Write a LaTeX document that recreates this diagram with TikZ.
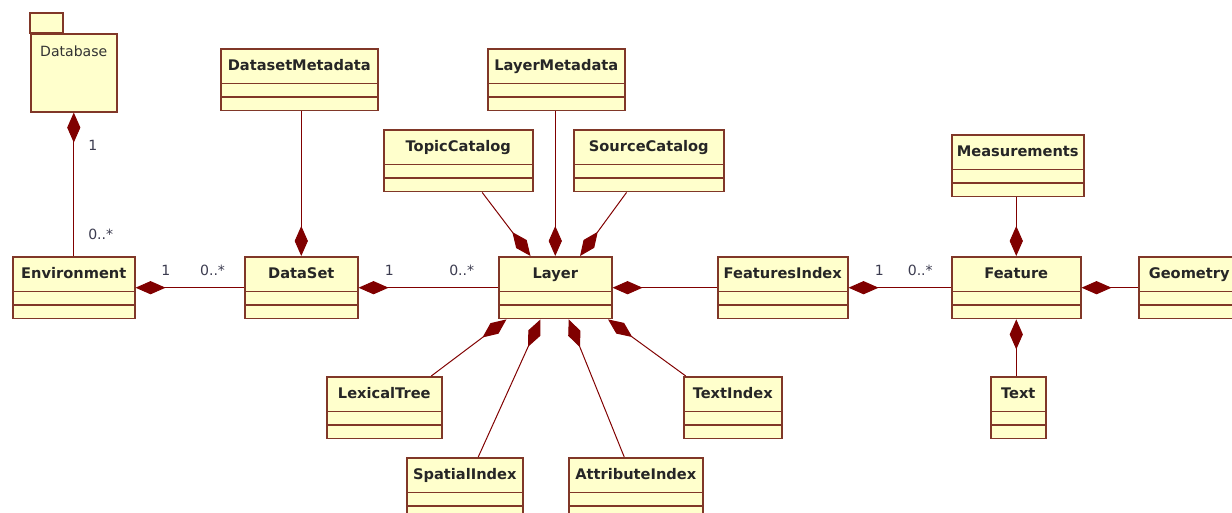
\documentclass[tikz,border=0pt]{standalone}
\usepackage{fontspec}
\setmainfont{DejaVu Sans}
\usepackage{xcolor}
\usetikzlibrary{shapes.multipart,arrows.meta}

\definecolor{clsfill}{RGB}{255,255,204}
\definecolor{clsline}{RGB}{128,55,40}
\definecolor{diam}{RGB}{128,0,0}
\definecolor{multc}{RGB}{60,60,80}

% header text of a class box
\newcommand{\hd}[1]{\rule[-0.25cm]{0pt}{0.73cm}#1}
% class box: name, position, width (px), title
\newcommand{\umlclass}[5][]{\node[cls,cw=#4,anchor=north west,#1] (#2) at (#3) {\hd{#5}\nodepart{two}\nodepart{three}};}

\begin{document}
\begin{tikzpicture}[x=0.025cm,y=-0.025cm,
	cls/.style={draw=clsline, fill=clsfill, line width=1.1pt, rectangle split, rectangle split parts=3,
		rectangle split ignore empty parts=false, rectangle split empty part height=0.2cm,
		inner ysep=0.05cm, inner xsep=0.1cm, font=\fontsize{10.4}{12}\selectfont\bfseries, text=black!85},
	cw/.style={minimum width=#1*0.025cm},
	pkg/.style={draw=clsline, fill=clsfill, line width=1.1pt, minimum width=2.15cm, inner sep=0.1cm,
		text height=0.475cm, text depth=1.275cm, font=\fontsize{10}{12}\selectfont, text=black!80},
	comp/.style={draw=diam, line width=0.7pt, {Diamond[length=0.75cm,width=0.33cm,fill=diam]}-},
	mult/.style={inner sep=0pt, font=\fontsize{10}{12}\selectfont, text=multc}]

	\useasboundingbox (0,0) rectangle (1232,513);
	\clip (0,0) rectangle (1232,513);

	% package
	\node[pkg, anchor=north west] (db) at (30,33) {Database};
	\draw[draw=clsline, fill=clsfill, line width=1.1pt] (db.north west) rectangle ++(33,-20);

	% classes
	\umlclass{env}{12,256}{122}{Environment}
	\umlclass{dataset}{244,256}{113}{DataSet}
	\umlclass{dsmeta}{220,48}{157}{DatasetMetadata}
	\umlclass{layer}{498,256}{113}{Layer}
	\umlclass{lymeta}{487,48}{137}{LayerMetadata}
	\umlclass{topic}{383,129}{149}{TopicCatalog}
	\umlclass{source}{573,129}{150}{SourceCatalog}
	\umlclass{lexical}{326,376}{115}{LexicalTree}
	\umlclass{spatial}{406,457}{116}{SpatialIndex}
	\umlclass{attrib}{568,457}{134}{AttributeIndex}
	\umlclass{textidx}{683,376}{98}{TextIndex}
	\umlclass{findex}{717,256}{130}{FeaturesIndex}
	\umlclass{feature}{951,256}{129}{Feature}
	\umlclass{measure}{951,134}{132}{Measurements}
	\umlclass{text}{990,376}{55}{Text}
	\umlclass[rectangle split part align=left, inner xsep=0.25cm]{geom}{1138,256}{115}{Geometry}

	% compositions
	\draw[comp] (db.south) -- node[mult, right=0.35cm, pos=0.23] {1}
		node[mult, right=0.35cm, pos=0.85] {0..*} (db.south |- env.north);
	\draw[comp] (env.east) -- node[mult, above=0.3cm, pos=0.28] {1}
		node[mult, above=0.3cm, pos=0.71] {0..*} (dataset.west);
	\draw[comp] (dataset.north) -- (dataset.north |- dsmeta.south);
	\draw[comp] (dataset.east) -- node[mult, above=0.3cm, pos=0.22] {1}
		node[mult, above=0.3cm, pos=0.74] {0..*} (layer.west);
	\draw[comp] (layer.north) -- (layer.north |- lymeta.south);
	\draw[comp] (layer.128) -- (topic.-53);
	\draw[comp] (layer.52) -- (source.-125);
	\draw[comp] (layer.-147) -- (lexical.34);
	\draw[comp] (layer.-115) -- (spatial.67);
	\draw[comp] (layer.-67) -- (attrib.110);
	\draw[comp] (layer.-31) -- (textidx.146);
	\draw[comp] (layer.east) -- (findex.west);
	\draw[comp] (findex.east) -- node[mult, above=0.3cm, pos=0.30] {1}
		node[mult, above=0.3cm, pos=0.70] {0..*} (feature.west);
	\draw[comp] (feature.north) -- (feature.north |- measure.south);
	\draw[comp] (feature.south) -- (feature.south |- text.north);
	\draw[comp] (feature.east) -- (geom.west);
\end{tikzpicture}
\end{document}
